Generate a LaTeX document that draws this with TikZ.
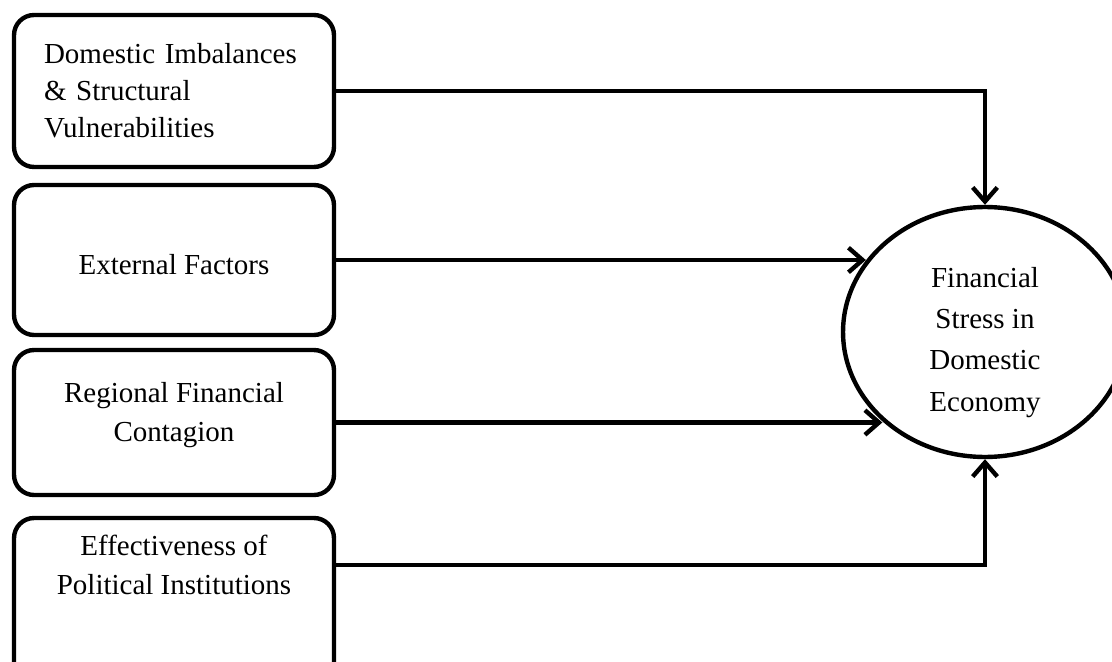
\documentclass[tikz,border=0pt]{standalone}
\usepackage{fontspec}
\setmainfont{Liberation Serif}
\usetikzlibrary{arrows.meta,shapes.geometric,positioning}

\tikzset{
  factor/.style={draw,line width=2.5pt,rounded corners=0.4cm,minimum width=6.4cm,
                 align=center,font=\fontsize{16.5}{22.5}\selectfont},
  stress/.style={draw,ellipse,line width=2.5pt,minimum width=5.68cm,minimum height=5cm,
                 inner sep=0pt,align=center,font=\fontsize{16.5}{23.5}\selectfont},
  link/.style={->,line width=2.5pt}
}

\begin{document}
\begin{tikzpicture}[x=0.02cm,y=-0.02cm,>={Straight Barb[length=8pt,width=14pt,line width=2.5pt]}]
      \clip (0,0) rectangle (1112,662);
      \node[factor,minimum height=3.04cm,text width=5.2cm,align=left,
            font=\fontsize{16.5}{21}\selectfont] (dom) at (174,91)
            {Domestic Imbalances\\ \& Structural\\ Vulnerabilities};
      \node[factor,minimum height=3cm]    (ext) at (174,260)   {\rule{0pt}{17pt}External Factors};
      \node[factor,minimum height=2.9cm]  (reg) at (174,422.5) {Regional Financial\\ Contagion\rule[-12pt]{0pt}{0pt}};
      \node[factor,minimum height=3.64cm] (pol) at (174,609)   {};
      \node[align=center,font=\fontsize{16.5}{22.5}\selectfont] (poltxt) at (174,565)
            {Effectiveness of\\ Political Institutions};
      \node[stress] (fin) at (985,332) {\rule{0pt}{23pt}Financial\\ Stress in\\ Domestic\\ Economy};

      \draw[link] (dom.east) -| (fin.north);
      \draw[link] (ext.east) -- (ext.east -| fin.149);
      \draw[link] (reg.east) -- (reg.east -| fin.221);
      \draw[link] (poltxt -| pol.east) -| (fin.south);
    \end{tikzpicture}
\end{document}
